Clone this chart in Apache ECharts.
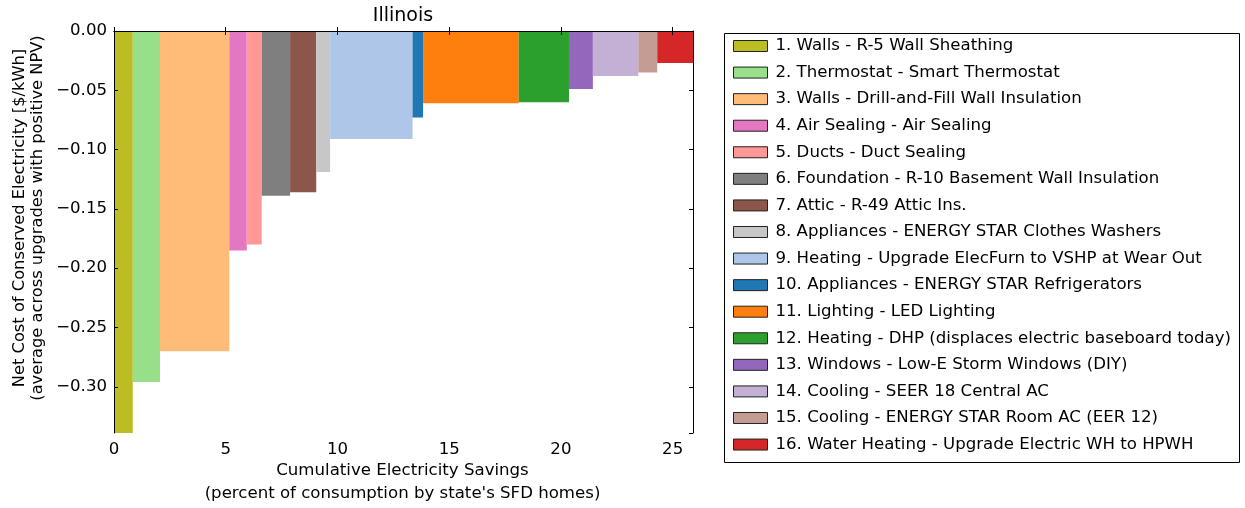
<!DOCTYPE html>
<html>
<head>
<meta charset="utf-8">
<script src="https://cdn.jsdelivr.net/npm/echarts@6/dist/echarts.min.js"></script>
<style>html,body{margin:0;padding:0;background:#fff}#c{width:1245px;height:508px}</style>
</head>
<body>
<div id="c"></div>
<script>
const upgrades = [
  "1. Walls - R-5 Wall Sheathing",
  "2. Thermostat - Smart Thermostat",
  "3. Walls - Drill-and-Fill Wall Insulation",
  "4. Air Sealing - Air Sealing",
  "5. Ducts - Duct Sealing",
  "6. Foundation - R-10 Basement Wall Insulation",
  "7. Attic - R-49 Attic Ins.",
  "8. Appliances - ENERGY STAR Clothes Washers",
  "9. Heating - Upgrade ElecFurn to VSHP at Wear Out",
  "10. Appliances - ENERGY STAR Refrigerators",
  "11. Lighting - LED Lighting",
  "12. Heating - DHP (displaces electric baseboard today)",
  "13. Windows - Low-E Storm Windows (DIY)",
  "14. Cooling - SEER 18 Central AC",
  "15. Cooling - ENERGY STAR Room AC (EER 12)",
  "16. Water Heating - Upgrade Electric WH to HPWH"
];
// electricity savings of each upgrade (percent of consumption)
const savings = [0.84, 1.22, 3.10, 0.78, 0.67, 1.27, 1.17, 0.62, 3.69, 0.47, 4.28, 2.25, 1.07, 2.03, 0.85, 1.60];
// net cost of conserved electricity ($/kWh)
const netCost = [-0.339, -0.296, -0.270, -0.185, -0.180, -0.139, -0.136, -0.119, -0.091, -0.073, -0.061, -0.060, -0.049, -0.038, -0.035, -0.027];
const colors = ["#bcbd22","#98df8a","#ffbb78","#e377c2","#ff9896","#7f7f7f","#8c564b","#c7c7c7","#aec7e8","#1f77b4","#ff7f0e","#2ca02c","#9467bd","#c5b0d5","#c49c94","#d62728"];
const xTicks = [0, 5, 10, 15, 20, 25];
const yTickStep = 0.05;

const FONT = 'DejaVu Sans';
const FS = 16.6;
const chart = echarts.init(document.getElementById('c'), null, {renderer: 'canvas'});

let cum = 0;
const series = upgrades.map((name, i) => {
  const start = cum;
  cum += savings[i];
  return {
    type: 'custom',
    name: name,
    coordinateSystem: 'cartesian2d',
    xAxisIndex: 0, yAxisIndex: 0,
    encode: {x: [0, 1], y: 2},
    itemStyle: {color: colors[i]},
    data: [[start, cum, -netCost[i]]],
    renderItem: function (params, api) {
      const p0 = api.coord([api.value(0), 0]);
      const p1 = api.coord([api.value(1), api.value(2)]);
      return {
        type: 'rect',
        shape: {x: p0[0], y: p0[1], width: p1[0] - p0[0], height: p1[1] - p0[1]},
        style: {fill: colors[i]}
      };
    },
    z: 2
  };
});

const isMult = (v, s) => Math.abs(v / s - Math.round(v / s)) < 1e-6;
const axisLineStyle = {color: '#000', width: 1};
const txt = {fontFamily: FONT, fontSize: FS, color: '#000'};

chart.setOption({
  animation: false,
  backgroundColor: '#fff',
  textStyle: {fontFamily: FONT},
  grid: {left: 114, right: 552, top: 31, bottom: 75},
  xAxis: [{
    type: 'value', min: 0, max: cum, interval: 5, position: 'bottom', z: 10,
    axisLine: {show: true, lineStyle: axisLineStyle},
    axisTick: {show: true, inside: true, length: 4, lineStyle: axisLineStyle},
    splitLine: {show: false},
    axisLabel: Object.assign({margin: 8, showMaxLabel: false,
      formatter: v => (xTicks.indexOf(Math.round(v)) >= 0 && isMult(v, 5)) ? String(Math.round(v)) : ''}, txt)
  }, {
    type: 'value', min: 0, max: cum, interval: 5, position: 'top', z: 10,
    axisLine: {show: true, onZero: false, lineStyle: axisLineStyle},
    axisTick: {show: true, inside: true, length: 4, lineStyle: axisLineStyle},
    splitLine: {show: false}, axisLabel: {show: false}
  }],
  yAxis: [{
    type: 'value', inverse: true, min: 0, max: -netCost[0], interval: yTickStep, position: 'left', z: 10,
    axisLine: {show: true, lineStyle: axisLineStyle},
    axisTick: {show: true, inside: true, length: 4, lineStyle: axisLineStyle},
    splitLine: {show: false},
    axisLabel: Object.assign({margin: 7, showMaxLabel: false,
      formatter: v => {
        if (!isMult(v, yTickStep)) return '';
        return v === 0 ? '0.00' : '\u2212' + v.toFixed(2);
      }}, txt)
  }, {
    type: 'value', inverse: true, min: 0, max: -netCost[0], interval: yTickStep, position: 'right', z: 10,
    axisLine: {show: true, onZero: false, lineStyle: axisLineStyle},
    axisTick: {show: true, inside: true, length: 4, lineStyle: axisLineStyle},
    splitLine: {show: false}, axisLabel: {show: false}
  }],
  legend: {
    orient: 'vertical', left: 728, top: 31, itemWidth: 34, itemHeight: 11, itemGap: 6.57,
    icon: 'rect',
    itemStyle: {borderColor: '#222', borderWidth: 1},
    textStyle: {fontFamily: FONT, fontSize: FS, color: '#000', lineHeight: 20, padding: [0, 0, 0, 3]},
    data: upgrades,
    selectedMode: false
  },
  graphic: [
    {type: 'rect', left: 722, top: 31, shape: {width: 515, height: 429}, style: {fill: 'none', stroke: '#000', lineWidth: 1}, z: 0},
    {type: 'text', x: 403, y: 16,
      style: {text: 'Illinois', fontFamily: FONT, fontSize: 19, fill: '#000', align: 'center', verticalAlign: 'middle'}},
    {type: 'text', x: 28.5, y: 218, rotation: Math.PI / 2,
      style: {text: 'Net Cost of Conserved Electricity [$/kWh]\n(average across upgrades with positive NPV)',
        fontFamily: FONT, fontSize: 16.3, lineHeight: 18, fill: '#000', align: 'center', verticalAlign: 'middle'}},
    {type: 'text', x: 402.5, y: 471,
      style: {text: 'Cumulative Electricity Savings', fontFamily: FONT, fontSize: FS, fill: '#000', align: 'center', verticalAlign: 'middle'}},
    {type: 'text', x: 402.5, y: 494,
      style: {text: "(percent of consumption by state's SFD homes)", fontFamily: FONT, fontSize: FS, fill: '#000', align: 'center', verticalAlign: 'middle'}}
  ],
  series: series
});
</script>
</body>
</html>
